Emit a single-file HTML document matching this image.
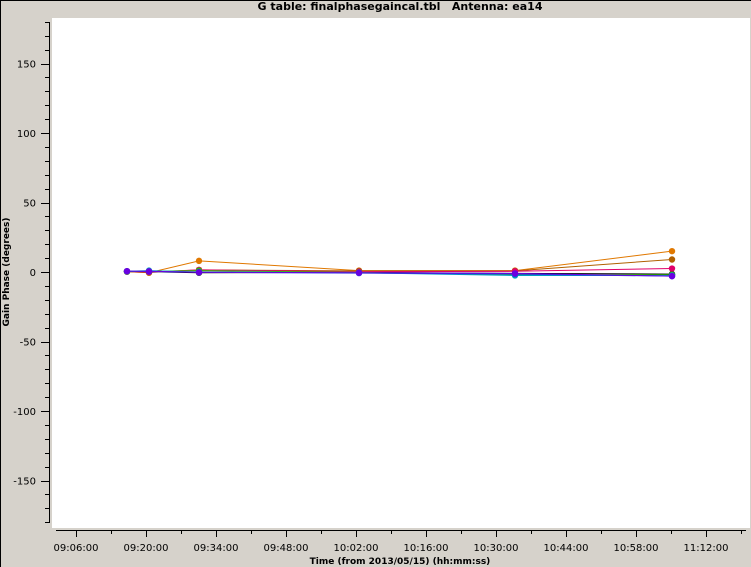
<!DOCTYPE html>
<html><head><meta charset="utf-8"><style>
html,body{margin:0;padding:0;width:751px;height:567px;overflow:hidden;background:#d6d2cb;}
svg{display:block;font-family:"DejaVu Sans","Liberation Sans",sans-serif;}
</style></head><body>
<svg id="chart" width="751" height="567">
<rect x="0.5" y="0.5" width="751" height="567" fill="#d6d2cb" stroke="#000"/>
<rect x="52" y="18" width="698" height="510" fill="#fff"/>
<text x="400" y="10" text-anchor="middle" font-size="11" font-weight="bold" xml:space="preserve" style="white-space:pre">G table: finalphasegaincal.tbl   Antenna: ea14</text>
<text x="400" y="564" text-anchor="middle" font-size="9" font-weight="bold">Time (from 2013/05/15) (hh:mm:ss)</text>
<text transform="translate(9,272) rotate(-90)" text-anchor="middle" font-size="9" font-weight="bold">Gain Phase (degrees)</text>
<g id="axes"></g><g id="series"></g>
</svg>
<script>
// times in minutes after 09:06:00
const times = [10.2, 14.6, 24.6, 56.6, 87.8, 119.2];
const seriesNames = ['black','orange','brown','magenta','green','cyan','blue','purple'];
const seriesColors = ['#000000','#e07800','#b06000','#e0006a','#30c000','#00a0c0','#2040e0','#6a00e0'];
const seriesValues = [
 [0.5, 0.2, -0.5, -0.3, -1.0, -1.5],
 [0.3, -0.5, 8.0, 1.0, 1.0, 15.0],
 [0.2, -0.4, 1.5, 0.8, 0.8, 9.0],
 [0.4, 0.0, 1.5, 0.2, 0.5, 2.5],
 [0.3, 0.5, 1.0, -0.3, -2.0, -2.0],
 [0.5, 1.0, 0.0, -0.5, -2.5, -2.5],
 [0.5, 0.3, -0.2, -0.8, -1.5, -3.0],
 [0.6, 0.5, -0.2, -0.5, -1.0, -3.0]
];
const xTickLabels = ['09:06:00','09:20:00','09:34:00','09:48:00','10:02:00','10:16:00','10:30:00','10:44:00','10:58:00','11:12:00'];
const yTicks = [-150,-100,-50,0,50,100,150];
const NS='http://www.w3.org/2000/svg';
const xs = m => 76 + m*5;
const ys = v => 272 - v*69.5/50;
function el(t,a,p){const e=document.createElementNS(NS,t);for(const k in a)e.setAttribute(k,a[k]);p.appendChild(e);return e;}
const ax=document.getElementById('axes');
const yl=el('line',{x1:49.5,y1:22,x2:49.5,y2:523,stroke:'#000'},ax);


for(let v=-180;v<=180;v+=10){
 const y=Math.round(ys(v))+0.5; if(y<22||y>523)continue;
 const major=v%50===0;
 el('line',{x1:major?41:45,y1:y,x2:49,y2:y,stroke:'#000'},ax);
}
yTicks.forEach(v=>{
 const t=el('text',{x:36,y:ys(v)+4,'text-anchor':'end','font-size':10},ax);
 t.textContent=v;
 
 
});
const xl=el('line',{x1:56,y1:530.5,x2:746,y2:530.5,stroke:'#000'},ax);


for(let m=0;m<=xTickLabels.length*14;m+=7){
 const x=Math.round(xs(m))+0.5; if(x>746)continue;
 el('line',{x1:x,y1:530,x2:x,y2:m%14===0?537:534,stroke:'#000'},ax);
}
xTickLabels.forEach((s,i)=>{
 const t=el('text',{x:xs(i*14),y:551,'text-anchor':'middle','font-size':10},ax);
 t.textContent=s;
 
 
});
const sg=document.getElementById('series');
seriesValues.forEach((vals,i)=>{
 const g=el('g',{},sg);
 
 
 el('polyline',{points:vals.map((v,j)=>xs(times[j])+','+ys(v)).join(' '),fill:'none',stroke:seriesColors[i],'stroke-width':1},g);
 vals.forEach((v,j)=>{
  const c=el('circle',{cx:xs(times[j]),cy:ys(v),r:3.2,fill:seriesColors[i]},g);
  
  
 });
});
</script>
</body></html>
